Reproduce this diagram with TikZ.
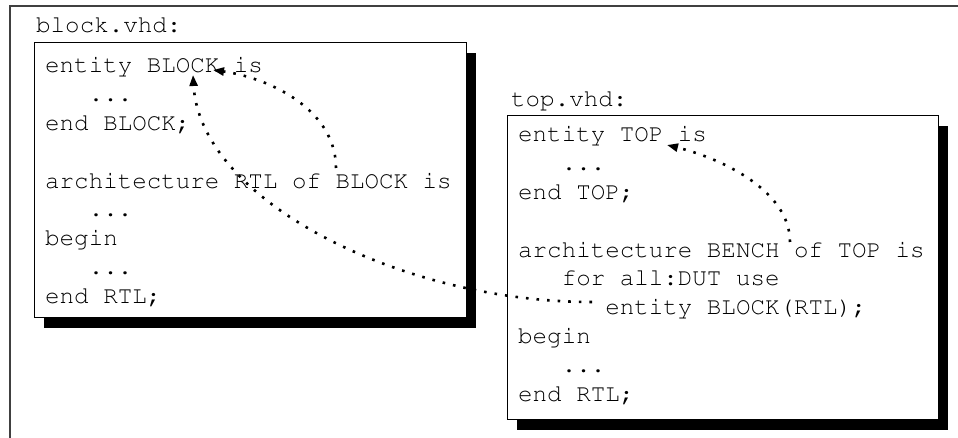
\documentclass[tikz,border=0pt]{standalone}
\usepackage[T1]{fontenc}
\usepackage{courier}
\usetikzlibrary{arrows.meta}
\usetikzlibrary{shadows}

\newcommand{\codefont}{\fontsize{24.2}{28.8}\ttfamily}
\newcommand{\codedots}{.{}.{}.}

\begin{document}
\begin{tikzpicture}[x=1pt, y=-1pt,
        codebox/.style={draw, line width=1.2pt, fill=white, anchor=north west, inner sep=0pt,
            drop shadow={fill=black, opacity=1, shadow xshift=9.5pt, shadow yshift=-10.5pt}},
        codeline/.style={anchor=base west, inner sep=0pt, font=\codefont},
        ref/.style={line width=2.6pt, dash pattern=on 2.6pt off 8pt, -{Triangle[length=11pt, width=8pt]}}]
        \useasboundingbox (0,0) rectangle (958,438);
        \draw [line width=1.5pt, black!75] (10,438) -- (10,6) -- (958,6);
        \node [codeline] (blkfile) at (36,33) {block.vhd:};
        \node [codebox, minimum width=432pt, minimum height=275pt] (blk) at (34,42) {};
        \foreach \n/\i/\t in {0/0/entity BLOCK is, 1/3/\codedots, 2/0/end BLOCK;, 4/0/architecture RTL of BLOCK is,
                5/3/\codedots, 6/0/begin, 7/3/\codedots, 8/0/end RTL;} {
            \node [codeline] (b\n) at ({45+\i*14.52}, {73+\n*28.8}) {\t};
        }
        \node [codeline] (topfile) at (511,107) {top.vhd:};
        \node [codebox, minimum width=431pt, minimum height=304pt] (top) at (507,115) {};
        \foreach \n/\i/\t in {0/0/entity TOP is, 1/3/\codedots, 2/0/end TOP;, 4/0/architecture BENCH of TOP is,
                5/3/for all:DUT use, 6/6/entity BLOCK(RTL);, 7/0/begin, 8/3/\codedots, 9/0/end RTL;} {
            \node [codeline] (t\n) at ({518+\i*14.52}, {142+\n*28.8}) {\t};
        }
        \coordinate (blkof) at (336,168);
        \coordinate (blkname) at (213,70);
        \coordinate (dutuse) at (592,302);
        \coordinate (blkent) at (193,75);
        \coordinate (topof) at (790,242);
        \coordinate (topname) at (667,145);
        \draw [ref] (blkof) .. controls (336,110) and (270,78) .. (blkname);
        \draw [ref] (dutuse) .. controls (400,302) and (200,200) .. (blkent);
        \draw [ref] (topof) .. controls (790,190) and (720,158) .. (topname);
    \end{tikzpicture}
\end{document}
